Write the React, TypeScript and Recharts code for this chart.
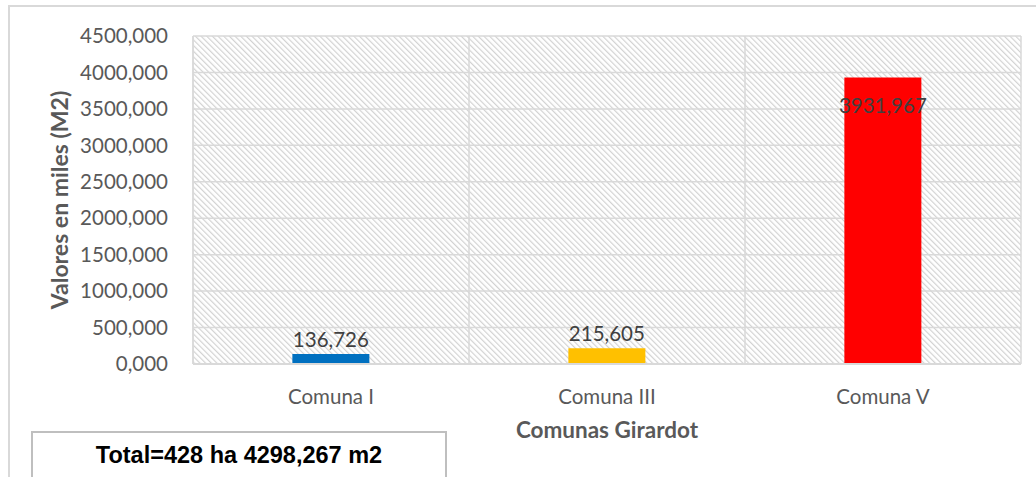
import { BarChart, Bar, XAxis, YAxis, CartesianGrid, Cell, LabelList } from 'recharts'

const comunas = ['Comuna I', 'Comuna III', 'Comuna V']
const valores = [136.726, 215.605, 3931.967]
const colores = ['#0070C0', '#FFC000', '#FF0000']
const yTicks = [0, 500, 1000, 1500, 2000, 2500, 3000, 3500, 4000, 4500]

const data = comunas.map((c, i) => ({ name: c, value: valores[i] }))

const fmt = (v: number) => v.toFixed(3).replace('.', ',')

const font = 'Lato, "Open Sans", sans-serif'

// Excel puts the label above small bars and inside the top of the tall one
const renderLabel = (props: any) => {
  const { x, y, width, height, value } = props
  const inside = height > 60
  return (
    <text
      x={x + width / 2}
      y={inside ? y + 28 : y - 15}
      textAnchor="middle"
      dominantBaseline="central"
      fill="#404040"
      fontSize={20.5}
      fontFamily={font}
    >
      {fmt(value)}
    </text>
  )
}

export default function App() {
  return (
    <div style={{ position: 'absolute', left: 0, top: 0, width: 1036, height: 477, overflow: 'hidden', background: '#fff' }}>
      <div style={{ position: 'absolute', left: 8, top: 5, width: 1060, height: 500, border: '2px solid #d9d9d9', boxSizing: 'border-box' }} />
      <BarChart
        width={1036}
        height={477}
        data={data}
        margin={{ top: 36, right: 15, bottom: 0, left: 0 }}
        barCategoryGap="36%"
        style={{ position: 'absolute', left: 0, top: 0 }}
      >
        <defs>
          <pattern id="hatch" patternUnits="userSpaceOnUse" width="4" height="4" patternTransform="rotate(-45)">
            <rect width="4" height="4" fill="#ffffff" />
            <line x1="0.6" y1="0" x2="0.6" y2="4" stroke="#d2d2d2" strokeWidth="1.2" />
          </pattern>
        </defs>
        <CartesianGrid
          fill="url(#hatch)"
          fillOpacity={1}
          stroke="#d9d9d9"
          strokeWidth={1.5}
          verticalCoordinatesGenerator={({ offset }: any) =>
            comunas.map((_, i) => offset.left + (offset.width * i) / comunas.length).concat(offset.left + offset.width)
          }
        />
        <XAxis
          dataKey="name"
          height={113}
          axisLine={{ stroke: '#d9d9d9', strokeWidth: 2 }}
          tickLine={false}
          tickSize={0}
          tickMargin={25}
          tick={{ fill: '#595959', fontSize: 20.5, fontFamily: font }}
          label={{
            value: 'Comunas Girardot',
            position: 'insideTop',
            offset: 58,
            fill: '#595959',
            fontSize: 22.5,
            fontWeight: 700,
            fontFamily: font,
          }}
        />
        <YAxis
          width={193}
          domain={[0, 4500]}
          ticks={yTicks}
          interval={0}
          axisLine={{ stroke: '#d9d9d9', strokeWidth: 1.5 }}
          tickLine={false}
          tickSize={0}
          tickMargin={25}
          tickFormatter={fmt}
          tick={{ fill: '#595959', fontSize: 20.5, fontFamily: font }}
          label={{
            value: 'Valores en miles (M2)',
            angle: -90,
            position: 'insideLeft',
            offset: 60,
            style: { textAnchor: 'middle' },
            fill: '#595959',
            fontSize: 23,
            fontWeight: 700,
            fontFamily: font,
          }}
        />
        <Bar dataKey="value" isAnimationActive={false}>
          {data.map((d, i) => (
            <Cell key={d.name} fill={colores[i]} />
          ))}
          <LabelList dataKey="value" content={renderLabel} />
        </Bar>
      </BarChart>
      <div
        style={{
          position: 'absolute',
          left: 31,
          top: 431,
          width: 416,
          height: 60,
          border: '2px solid #bfbfbf',
          boxSizing: 'border-box',
          background: '#fff',
          fontFamily: '"Liberation Sans", Arial, sans-serif',
          fontWeight: 700,
          fontSize: 23.5,
          color: '#000',
          textAlign: 'center',
          paddingTop: 9,
        }}
      >
        Total=428 ha 4298,267 m2
      </div>
    </div>
  )
}
